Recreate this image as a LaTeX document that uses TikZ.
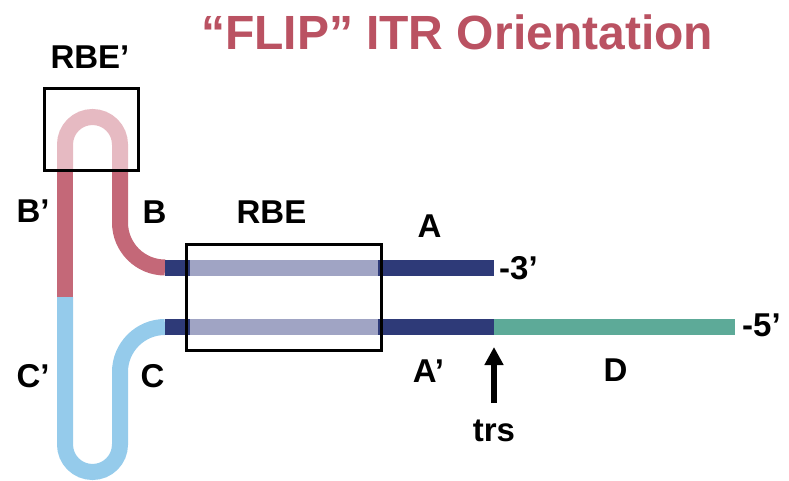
\documentclass[tikz,border=0pt]{standalone}
\usepackage{fontspec}
\setmainfont{Liberation Sans}
\usetikzlibrary{arrows.meta,positioning}

\definecolor{titlered}{RGB}{186,82,98}
\definecolor{darkpink}{RGB}{196,104,120}
\definecolor{lightpink}{RGB}{230,186,194}
\definecolor{lightblue}{RGB}{149,203,235}
\definecolor{navy}{RGB}{46,58,120}
\definecolor{paleblue}{RGB}{160,164,196}
\definecolor{teal}{RGB}{93,170,152}

\begin{document}
\begin{tikzpicture}[x=1pt, y=-1pt,
  strand/.style={line width=16pt},
  lbl/.style={font=\fontsize{33}{38}\selectfont\bfseries, inner sep=0pt},
  elbox/.style={draw=black, line width=3pt}]

\useasboundingbox (0,0) rectangle (789,481);

% Puntos de union
\coordinate (bp) at (65,297);
\coordinate (bpl) at (65,170);
\coordinate (bl) at (120,170);
\coordinate (atop) at (165,267.5);
\coordinate (abot) at (165,327);
\coordinate (aend) at (494,267.5);
\coordinate (trs) at (494,327);
\coordinate (dend) at (735,327);

% Brazo B / B'
\draw[strand, darkpink] (bp) -- (bpl);
\draw[strand, lightpink] (bpl) -- (65,144.5) arc (180:360:27.5) -- (bl);
\draw[strand, darkpink] (bl) -- (120,222.5) arc (180:90:45) -- (atop);

% Brazo C / C'
\draw[strand, lightblue] (abot) arc (270:180:45) -- (120,444.5)
  arc (0:180:27.5) -- (bp);

% Tallo A / A' y D
\draw[strand, navy] (atop) -- (aend);
\draw[strand, navy] (abot) -- (trs);
\draw[strand, teal] (trs) -- (dend);
\draw[strand, paleblue] (190,267.5) -- (378,267.5);
\draw[strand, paleblue] (190,327) -- (378,327);

% Cajas RBE
\draw[elbox] (186,244) rectangle (381,350);
\draw[elbox] (44,89) rectangle (138,171);

% Flecha trs
\coordinate (arrbot) at (494,403);
\draw[line width=6.5pt, -{Triangle[width=18pt,length=18pt]}] (arrbot) -- (494,347);

% Etiquetas
\node[font=\fontsize{48}{55}\selectfont\bfseries, text=titlered] (title) at (457,32) {“FLIP” ITR Orientation};
\node[lbl] (rbep) at (90,57) {RBE’};
\node[lbl] (bpr) at (33,211) {B’};
\node[lbl] (b) at (154.5,212) {B};
\node[lbl] (cpr) at (33,376) {C’};
\node[lbl] (c) at (152.5,376) {C};
\node[lbl] (rbe) at (271.5,212) {RBE};
\node[lbl] (a) at (429.5,226) {A};
\node[lbl] (apr) at (428.5,371) {A’};
\node[lbl, anchor=west] (end3) at (499,268) {-3’};
\node[lbl, anchor=west] (end5) at (742,325) {-5’};
\node[lbl] (d) at (615.5,370.5) {D};
\node[lbl] (trslbl) at (494,431) {trs};

\end{tikzpicture}
\end{document}
